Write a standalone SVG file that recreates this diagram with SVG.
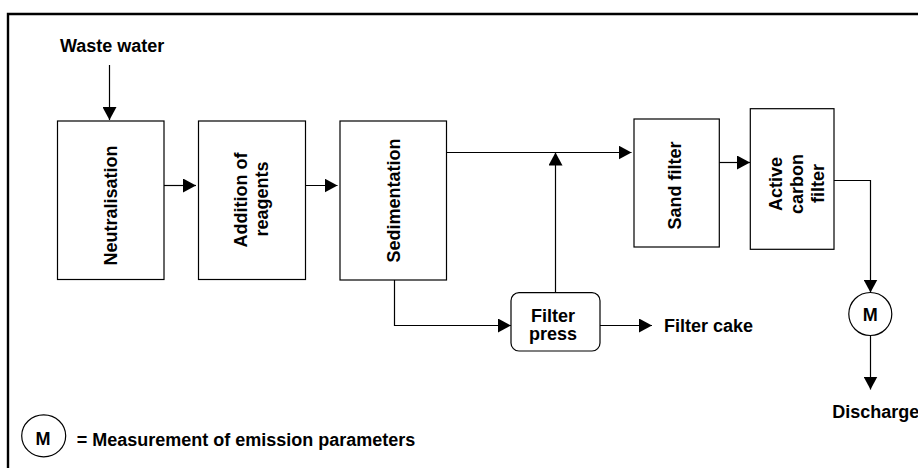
<svg xmlns="http://www.w3.org/2000/svg" width="918" height="468" viewBox="0 0 918 468">
<defs>
<style>
.box{fill:#fff;stroke:#000;stroke-width:1.2}
.ln{fill:none;stroke:#000;stroke-width:1.2}
.t{font-family:"Liberation Sans",Arial,sans-serif;font-weight:bold;font-size:18px;fill:#000}
.c{text-anchor:middle}
</style>
<marker id="ah" markerUnits="userSpaceOnUse" markerWidth="14" markerHeight="14" refX="13" refY="7" orient="auto" viewBox="0 0 14 14">
<path d="M0,0 L13,7 L0,14 Z" fill="#000"/>
</marker>
</defs>
<rect width="918" height="468" fill="#fff"/>
<path d="M8,468 V14 H918" fill="none" stroke="#000" stroke-width="2.4"/>

<g id="connectors">
<path class="ln" d="M109.5,65 V120" marker-end="url(#ah)"/>
<path class="ln" d="M164,185.5 H196" marker-end="url(#ah)"/>
<path class="ln" d="M305.5,185.5 H337.5" marker-end="url(#ah)"/>
<path class="ln" d="M446.5,152.5 H631.5" marker-end="url(#ah)"/>
<path class="ln" d="M555.5,292.5 V152.5" marker-end="url(#ah)"/>
<path class="ln" d="M719,162.5 H750" marker-end="url(#ah)"/>
<path class="ln" d="M834,180.5 H870.5 V292.5" marker-end="url(#ah)"/>
<path class="ln" d="M870.5,335.5 V389.5" marker-end="url(#ah)"/>
<path class="ln" d="M394.5,280 V325.5 H511" marker-end="url(#ah)"/>
<path class="ln" d="M600,325.5 H652" marker-end="url(#ah)"/>
</g>

<g id="waste-water"><text class="t" x="60" y="52.3">Waste water</text></g>

<g id="neutralisation">
<rect class="box" x="57.5" y="121" width="106.5" height="158.5"/>
<text class="t c" transform="translate(116.5,205.5) rotate(-90)">Neutralisation</text>
</g>

<g id="addition">
<rect class="box" x="198.5" y="121" width="107" height="158.5"/>
<text class="t c" transform="translate(247.3,200) rotate(-90)">Addition of</text>
<text class="t c" transform="translate(267.8,199) rotate(-90)">reagents</text>
</g>

<g id="sedimentation">
<rect class="box" x="340" y="121" width="106.5" height="159"/>
<text class="t c" transform="translate(399.5,200.5) rotate(-90)">Sedimentation</text>
</g>

<g id="sand-filter">
<rect class="box" x="634" y="119" width="85.3" height="128"/>
<text class="t c" transform="translate(680.5,185.5) rotate(-90)">Sand filter</text>
</g>

<g id="carbon-filter">
<rect class="box" x="750.3" y="108.7" width="83.7" height="140.6"/>
<text class="t c" transform="translate(781.5,184) rotate(-90)">Active</text>
<text class="t c" transform="translate(802.5,184) rotate(-90)">carbon</text>
<text class="t c" transform="translate(824,183.5) rotate(-90)">filter</text>
</g>

<g id="filter-press">
<rect class="box" x="511" y="292.7" width="89" height="58.3" rx="8" ry="8"/>
<text class="t c" x="553" y="321.5">Filter</text>
<text class="t c" x="553" y="340">press</text>
</g>

<g id="filter-cake"><text class="t" x="664" y="332.3">Filter cake</text></g>

<g id="measurement">
<circle class="box" cx="870.3" cy="314" r="21.5"/>
<text class="t c" x="870.3" y="321.3">M</text>
</g>

<g id="discharge"><text class="t" x="832.3" y="418.3">Discharge</text></g>

<g id="legend">
<ellipse class="box" cx="43.7" cy="435.8" rx="22" ry="21"/>
<text class="t c" x="43" y="445">M</text>
<text class="t" x="76.7" y="445.7">= Measurement of emission parameters</text>
</g>
</svg>
